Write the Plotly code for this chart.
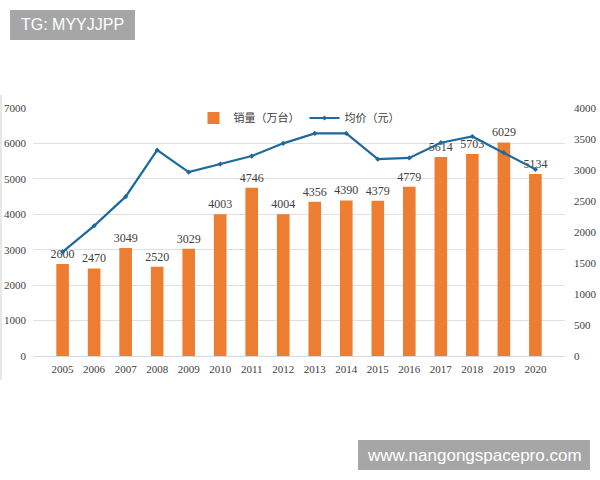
import plotly.graph_objects as go

years = [str(y) for y in range(2005, 2021)]
sales = [2600, 2470, 3049, 2520, 3029, 4003, 4746, 4004, 4356, 4390, 4379, 4779, 5614, 5703, 6029, 5134]
price = [1680, 2100, 2570, 3320, 2965, 3095, 3225, 3430, 3590, 3590, 3175, 3195, 3440, 3540, 3280, 3010]

W, H = 600, 480
L, R, T, B = 33, 35, 108, 124
pw, ph = W - L - R, H - T - B

def px(x):
    return (x - L) / pw

def py(y):
    return (H - B - y) / ph

serif = "Liberation Serif, Times New Roman, serif"
cjk = "Noto Sans CJK SC, sans-serif"

fig = go.Figure()
fig.add_trace(go.Bar(
    x=years, y=sales, name="销量（万台）",
    marker=dict(color="#ED7D31", line=dict(width=0)),
    width=0.4,
    text=[str(v) for v in sales], textposition="outside",
    constraintext="none",
    textfont=dict(family=serif, size=12, color="#404040"),
    cliponaxis=False,
))
fig.add_trace(go.Scatter(
    x=years, y=price, name="均价（元）", yaxis="y2", mode="lines+markers",
    line=dict(color="#1F6A9B", width=2.2),
    marker=dict(symbol="diamond", size=4, color="#1F6A9B"),
))

fig.update_layout(
    width=W, height=H,
    margin=dict(l=L, r=R, t=T, b=B, autoexpand=False),
    paper_bgcolor="white", plot_bgcolor="white",
    showlegend=True,
    legend=dict(orientation="h", x=0.5, xanchor="center", y=py(118), yanchor="middle",
                font=dict(family=cjk, size=11, color="#404040"), bgcolor="rgba(0,0,0,0)",
                traceorder="normal", itemwidth=30),
    xaxis=dict(type="category", showgrid=False, showline=True, linecolor="#d9d9d9",
               ticks="", tickfont=dict(family=serif, size=11, color="#404040"),
               ticklabelstandoff=3, automargin=False),
    yaxis=dict(range=[0, 7000], dtick=1000, showgrid=True, gridcolor="#e0e0e0",
               zeroline=False, ticks="", tickfont=dict(family=serif, size=11, color="#404040"),
               ticklabelstandoff=6, automargin=False),
    yaxis2=dict(range=[0, 4000], dtick=500, overlaying="y", side="right", showgrid=False,
                zeroline=False, ticks="", tickfont=dict(family=serif, size=11, color="#404040"),
                ticklabelstandoff=8, automargin=False),
    font=dict(family=serif),
)

# left frame line
fig.add_shape(type="line", xref="paper", yref="paper", x0=px(1), x1=px(1), y0=py(95), y1=py(380),
              line=dict(color="#d0d0d0", width=1))

# watermark boxes
def box(x0, y0, x1, y1, text, size):
    fig.add_shape(type="rect", xref="paper", yref="paper", x0=px(x0), x1=px(x1), y0=py(y1), y1=py(y0),
                  fillcolor="#a6a6a6", line=dict(width=0), layer="above")
    fig.add_annotation(xref="paper", yref="paper", x=px((x0 + x1) / 2), y=py((y0 + y1) / 2),
                       text=text, showarrow=False, xanchor="center", yanchor="middle",
                       font=dict(family="Liberation Sans, Arial, sans-serif", size=size, color="white"))

box(10, 10, 135, 40, "TG: MYYJJPP", 16)
box(358, 440, 590, 470, "www.nangongspacepro.com", 17)

fig.write_html("out.html")
